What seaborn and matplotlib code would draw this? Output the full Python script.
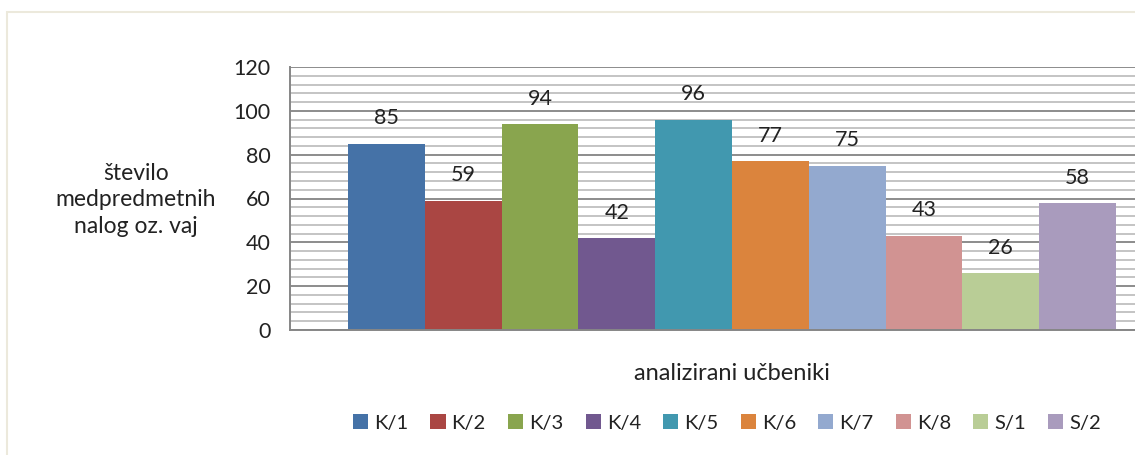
import matplotlib
matplotlib.use('Agg')
import matplotlib.pyplot as plt
import seaborn as sns
import pandas as pd
from matplotlib.patches import Rectangle
from matplotlib.ticker import MultipleLocator

# podatki
ucbeniki  = ["K/1", "K/2", "K/3", "K/4", "K/5", "K/6", "K/7", "K/8", "S/1", "S/2"]
stevilo   = [85, 59, 94, 42, 96, 77, 75, 43, 26, 58]
barve     = ['#4572A7', '#AA4643', '#89A54E', '#71588F', '#4198AF',
             '#DB843D', '#93A9CF', '#D19392', '#B9CD96', '#A99BBD']

sns.set_style("white")
plt.rcParams['font.family'] = ['Lato', 'DejaVu Sans']
TXT = '#222222'

df = pd.DataFrame({"ucbenik": ucbeniki, "stevilo": stevilo})

fig = plt.figure(figsize=(11.35, 4.55), dpi=100)
fig.patch.set_facecolor('white')

# okvir grafikona
fig.patches.append(Rectangle((7/1135, -0.1), 1.2, 1 - 12/455 + 0.1,
                             transform=fig.transFigure, fill=False,
                             edgecolor='#ECE9DC', linewidth=1.5))

ax = fig.add_axes([290/1135, 1 - 330/455, 884/1135, 263/455])
sns.barplot(data=df, x="ucbenik", y="stevilo", hue="ucbenik",
            palette=barve, width=1.0, saturation=1, legend=False, ax=ax,
            linewidth=0)

xmin, xmax = -0.5 - 58/76.8, 9.5 + 58/76.8
ax.set_xlim(xmin, xmax)
ax.set_ylim(0, 120)
ax.yaxis.set_major_locator(MultipleLocator(20))
ax.yaxis.set_minor_locator(MultipleLocator(4))
ax.grid(which='major', axis='y', color='#8C8C8C', linewidth=1.4)
ax.grid(which='minor', axis='y', color='#C4C4C4', linewidth=1.4)
ax.set_axisbelow(True)

for s in ['top', 'right']:
    ax.spines[s].set_visible(False)
for s in ['left', 'bottom']:
    ax.spines[s].set_color('#868686')
    ax.spines[s].set_linewidth(1.4)

ax.set_xticks([xmin])
ax.set_xticklabels([""])
ax.tick_params(axis='x', which='major', direction='out', length=6,
               width=1.4, color='#868686')
ax.tick_params(axis='y', which='major', direction='out', length=6,
               width=1.4, color='#868686', labelsize=15.5, labelcolor=TXT, pad=8)
ax.tick_params(axis='y', which='minor', length=0)

for cont in ax.containers:
    ax.bar_label(cont, padding=11, fontsize=15.5, color=TXT)

ax.set_xlabel("analizirani učbeniki", fontsize=17, color=TXT, labelpad=14)
ax.set_ylabel("")

fig.text(136/1135, 1 - 200/455, "število\nmedpredmetnih\nnalog oz. vaj",
         ha='center', va='center', fontsize=16.5, color=TXT, linespacing=1.35)

handles = [Rectangle((0, 0), 1, 1, facecolor=c, edgecolor='none') for c in barve]
fig.legend(handles, ucbeniki, loc='center', bbox_to_anchor=(727/1135, 1 - 423/455),
           ncol=10, frameon=False, fontsize=14.5, handlelength=0.75,
           handleheight=0.75, handletextpad=0.3, columnspacing=1.1,
           labelcolor=TXT)

fig.savefig("out.png", dpi=100, facecolor='white')
